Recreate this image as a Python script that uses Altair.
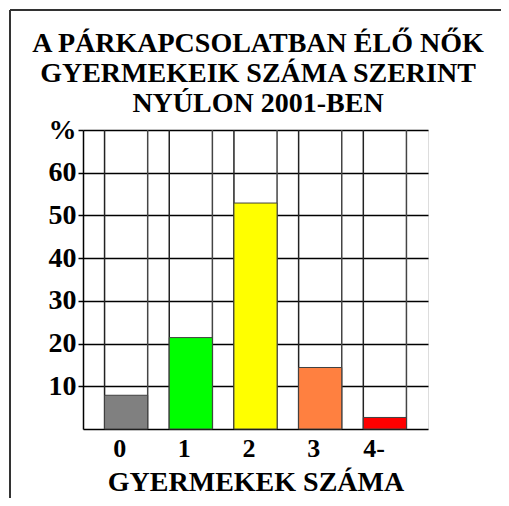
import altair as alt
import pandas as pd

categories = ["0", "1", "2", "3", "4-"]
values = [7.9, 21.4, 52.9, 14.4, 2.7]
colors = ["#808080", "#00FF00", "#FFFF00", "#FF8040", "#FF0000"]
title_lines = ["A PÁRKAPCSOLATBAN ÉLŐ NŐK", "GYERMEKEIK SZÁMA SZERINT", "NYÚLON 2001-BEN"]
y_ticks = [10, 20, 30, 40, 50, 60, 70]

df = pd.DataFrame({"cat": categories, "val": values})

FONT = "Liberation Serif"
W, H = 345, 299

xscale = alt.Scale(domain=categories, paddingInner=1/3, paddingOuter=1/3)
yscale = alt.Scale(domain=[0, 70], nice=False)

base = alt.Chart(df)

bars = base.mark_bar(stroke="#404040", strokeWidth=1).encode(
    x=alt.X("cat:N", scale=xscale, sort=categories,
            axis=alt.Axis(title="GYERMEKEK SZÁMA", labelAngle=0, labelFont=FONT,
                          labelFontSize=26, labelFontWeight="bold", labelColor="black",
                          labelPadding=19, titleFont=FONT, titleFontSize=28,
                          titleFontWeight="bold", titleColor="black", titlePadding=7,
                          ticks=False, domainColor="black", domainWidth=1.5)),
    y=alt.Y("val:Q", scale=yscale,
            axis=alt.Axis(title=None, values=y_ticks,
                          labelExpr="datum.value == 70 ? '%' : datum.label",
                          labelFont=FONT, labelFontSize=28, labelFontWeight="bold",
                          labelColor="black", labelPadding=2, tickSize=5, tickColor="black",
                          tickWidth=1.5, grid=True, gridColor="black", gridWidth=1.5,
                          domainColor="black", domainWidth=1.5)),
    color=alt.Color("cat:N", scale=alt.Scale(domain=categories, range=colors), legend=None),
)

vstart = base.mark_rule(color="#222222", strokeWidth=1.5).encode(
    x=alt.X("cat:N", scale=xscale, sort=categories, bandPosition=0),
)
vend = base.mark_rule(color="#444444", strokeWidth=1.5).encode(
    x=alt.X("cat:N", scale=xscale, sort=categories, bandPosition=1),
)

frame_top = base.mark_rule(color="#333333", strokeWidth=1.5).encode(
    x=alt.value(-73), x2=alt.value(420), y=alt.value(-120)
)
frame_left = base.mark_rule(color="#333333", strokeWidth=2).encode(
    x=alt.value(-73), y=alt.value(-120), y2=alt.value(368)
)

title = alt.Chart(pd.DataFrame({"t": [title_lines]})).mark_text(
    font=FONT, fontSize=28, fontWeight="bold", color="black", align="center",
    baseline="alphabetic", lineHeight=30,
).encode(text="t", x=alt.value(175), y=alt.value(-78))

chart = alt.layer(vstart, vend, bars, frame_top, frame_left, title).properties(
    width=W, height=H,
    autosize=alt.AutoSizeParams(type="none"),
    padding={"left": 75, "top": 122, "right": 73, "bottom": 69},
).configure_view(stroke="#555555", strokeWidth=1.5).configure(background="white")

chart.save("out.html", embed_options={"renderer": "svg", "actions": False})
